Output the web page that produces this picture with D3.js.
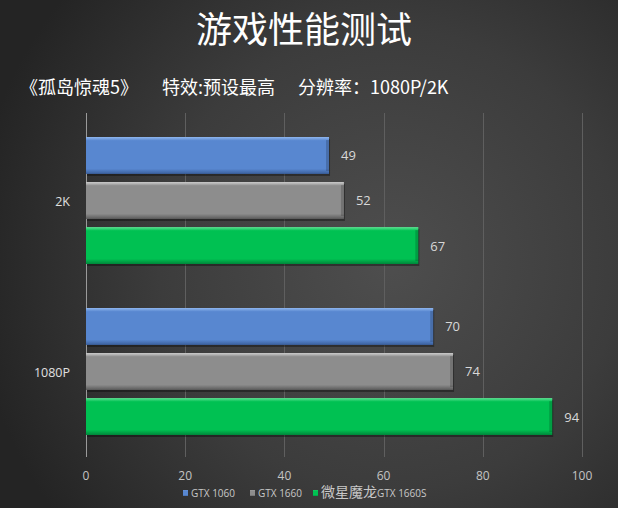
<!DOCTYPE html>
<html>
<head>
<meta charset="utf-8">
<script src="https://cdn.jsdelivr.net/npm/d3@7"></script>
<style>
  html, body { margin: 0; padding: 0; background: #2c2c2c; }
  svg { display: block; }
</style>
</head>
<body>
<div id="chart"></div>
<script>
var categories = ["2K", "1080P"];
var series = ["GTX 1060", "GTX 1660", "微星魔龙GTX 1660S"];
var values2K = [49, 52, 67];
var values1080P = [70, 74, 94];
var xTicks = [0, 20, 40, 60, 80, 100];

var width = 618, height = 508;
var colors = {
    "GTX 1060": ["#8fb6ee", "#5887d0", "#3a5f9c"],
    "GTX 1660": ["#cfcfcf", "#8d8d8d", "#5a5a5a"],
    "微星魔龙GTX 1660S": ["#5fe394", "#00c152", "#00863a"]
};

var rows = [];
categories.forEach(function (c, i) {
    var vals = i == 0 ? values2K : values1080P;
    series.forEach(function (s, j) {
        rows.push({ cat: c, series: s, value: vals[j] });
    });
});

var svg = d3.select("#chart")
    .append("svg")
    .attr("width", width)
    .attr("height", height);

var defs = svg.append("defs");

var bg = defs.append("radialGradient")
    .attr("id", "bg")
    .attr("gradientUnits", "userSpaceOnUse")
    .attr("cx", 390).attr("cy", 260).attr("r", 420);
bg.append("stop").attr("offset", "0%").attr("stop-color", "#4e4e4e");
bg.append("stop").attr("offset", "55%").attr("stop-color", "#3c3c3c");
bg.append("stop").attr("offset", "100%").attr("stop-color", "#242424");

series.forEach(function (s, i) {
    var g = defs.append("linearGradient")
        .attr("id", "bar" + i)
        .attr("x1", 0).attr("y1", 0).attr("x2", 0).attr("y2", 1);
    var c = colors[s];
    g.append("stop").attr("offset", "0%").attr("stop-color", c[0]);
    g.append("stop").attr("offset", "10%").attr("stop-color", c[1]);
    g.append("stop").attr("offset", "86%").attr("stop-color", c[1]);
    g.append("stop").attr("offset", "100%").attr("stop-color", c[2]);
});

svg.append("rect")
    .attr("width", width)
    .attr("height", height)
    .style("fill", "url(#bg)");

// Titles
svg.append("text")
    .attr("x", 304).attr("y", 43)
    .attr("text-anchor", "middle")
    .style("font-family", "'Noto Sans CJK SC'")
    .style("font-size", "36px")
    .style("font-weight", "400")
    .style("fill", "#ffffff")
    .text("游戏性能测试");

var subtitle = [
    { x: 20, text: "《孤岛惊魂5》" },
    { x: 162, text: "特效:预设最高" },
    { x: 298, text: "分辨率：1080P/2K" }
];
svg.selectAll(".sub")
    .data(subtitle)
    .enter().append("text")
    .attr("class", "sub")
    .attr("x", function (d) { return d.x; })
    .attr("y", 94)
    .style("font-family", "'Noto Sans CJK SC'")
    .style("font-size", "18px")
    .style("fill", "#ffffff")
    .text(function (d) { return d.text; });

// Scales
var x = d3.scaleLinear()
    .domain([0, 100])
    .range([86, 582]);

var y0 = d3.scaleBand()
    .domain(categories)
    .range([115, 457])
    .padding(0);

var y1 = d3.scaleBand()
    .domain(series)
    .range([22, y0.bandwidth() - 22])
    .paddingInner(0.18);

// Grid
svg.selectAll(".grid")
    .data(xTicks)
    .enter().append("line")
    .attr("class", "grid")
    .attr("x1", function (d) { return Math.round(x(d)) + 0.5; })
    .attr("x2", function (d) { return Math.round(x(d)) + 0.5; })
    .attr("y1", 113)
    .attr("y2", 457)
    .style("stroke", function (d) { return d == 0 ? "#9a9a9a" : "#5f5f5f"; })
    .style("stroke-width", 1);

// X tick labels
svg.selectAll(".xtick")
    .data(xTicks)
    .enter().append("text")
    .attr("class", "xtick")
    .attr("x", function (d) { return x(d); })
    .attr("y", 480)
    .attr("text-anchor", "middle")
    .style("font-family", "'Open Sans'")
    .style("font-size", "12px")
    .style("fill", "#c4c4c4")
    .text(function (d) { return d; });

// Category labels
svg.selectAll(".cat")
    .data(categories)
    .enter().append("text")
    .attr("class", "cat")
    .attr("x", 70)
    .attr("y", function (d) { return y0(d) + y0.bandwidth() / 2 + 5; })
    .attr("text-anchor", "end")
    .style("font-family", "'Open Sans'")
    .style("font-size", "12.5px")
    .style("fill", "#e0e0e0")
    .text(function (d) { return d; });

// Bars
var bars = svg.selectAll(".bar")
    .data(rows)
    .enter().append("g")
    .attr("class", "bar")
    .attr("transform", function (d) {
        return "translate(0," + (y0(d.cat) + y1(d.series)) + ")";
    });

bars.append("rect")
    .attr("x", x(0) + 1)
    .attr("y", 2)
    .attr("width", function (d) { return x(d.value) - x(0); })
    .attr("height", y1.bandwidth())
    .style("fill", "rgba(0,0,0,0.35)");

bars.append("rect")
    .attr("x", x(0))
    .attr("y", 0)
    .attr("width", function (d) { return x(d.value) - x(0); })
    .attr("height", y1.bandwidth())
    .style("fill", function (d) { return "url(#bar" + series.indexOf(d.series) + ")"; });

// right end bevel
bars.append("rect")
    .attr("x", function (d) { return x(d.value) - 3; })
    .attr("y", 3)
    .attr("width", 3)
    .attr("height", y1.bandwidth() - 6)
    .style("fill", "rgba(0,0,0,0.18)");

bars.append("text")
    .attr("x", function (d) { return x(d.value) + 12; })
    .attr("y", y1.bandwidth() / 2 + 5)
    .style("font-family", "'Open Sans'")
    .style("font-size", "13px")
    .style("fill", "#d8d8d8")
    .text(function (d) { return d.value; });

// Legend
var legend = [
    { s: "GTX 1060", x: 183, parts: [["GTX 1060", 10]] },
    { s: "GTX 1660", x: 250, parts: [["GTX 1660", 10]] },
    { s: "微星魔龙GTX 1660S", x: 313, parts: [["微星魔龙", 14], ["GTX 1660S", 10]] }
];
var lg = svg.selectAll(".legend")
    .data(legend)
    .enter().append("g")
    .attr("class", "legend")
    .attr("transform", function (d) { return "translate(" + d.x + ",497)"; });

lg.append("rect")
    .attr("x", 0).attr("y", -7)
    .attr("width", 5).attr("height", 6)
    .style("fill", function (d) { return "url(#bar" + series.indexOf(d.s) + ")"; });

lg.append("text")
    .attr("x", 8)
    .attr("y", 0)
    .style("fill", "#c8c8c8")
    .style("font-family", "'Open Sans'")
    .selectAll("tspan")
    .data(function (d) { return d.parts; })
    .enter().append("tspan")
    .style("font-size", function (d) { return d[1] + "px"; })
    .style("font-family", function (d) { return d[1] > 10 ? "'Noto Sans CJK SC'" : "'Open Sans'"; })
    .text(function (d) { return d[0]; });
</script>
</body>
</html>
